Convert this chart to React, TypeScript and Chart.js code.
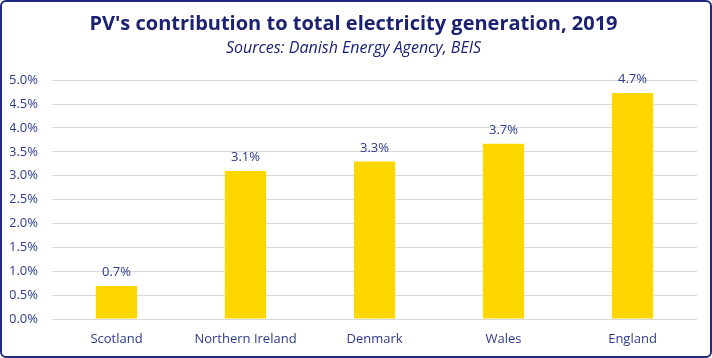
import React, { useEffect, useRef } from "react";
import { Chart, registerables } from "chart.js";

Chart.register(...registerables);

const categories = ["Scotland", "Northern Ireland", "Denmark", "Wales", "England"];
const pvShare = [0.69, 3.1, 3.3, 3.67, 4.73];
const valueLabels = ["0.7%", "3.1%", "3.3%", "3.7%", "4.7%"];
const titleText = "PV's contribution to total electricity generation, 2019";
const subtitleText = "Sources: Danish Energy Agency, BEIS";

const NAVY = "#1b2272";
const TICK = "#2e3a8c";
const FONT = "'Open Sans', 'Noto Sans', sans-serif";

const labelPlugin = {
  id: "barLabels",
  afterDatasetsDraw(chart: any) {
    const ctx = chart.ctx;
    const meta = chart.getDatasetMeta(0);
    ctx.save();
    ctx.fillStyle = TICK;
    ctx.font = `13px ${FONT}`;
    ctx.textAlign = "center";
    ctx.textBaseline = "bottom";
    meta.data.forEach((bar: any, i: number) => {
      ctx.fillText(valueLabels[i], bar.x, bar.y - 7);
    });
    ctx.restore();
  },
};

export default function App() {
  const ref = useRef<HTMLCanvasElement>(null);
  useEffect(() => {
    document.body.style.margin = "0";
    const chart = new Chart(ref.current!, {
      type: "bar",
      data: {
        labels: categories,
        datasets: [
          {
            data: pvShare,
            backgroundColor: "#FFD700",
            borderWidth: 0,
            barPercentage: 0.64,
            categoryPercentage: 0.5,
          },
        ],
      },
      options: {
        animation: false,
        responsive: false,
        maintainAspectRatio: false,
        layout: { padding: { left: 8, right: 13, top: 4, bottom: 4 } },
        plugins: {
          legend: { display: false },
          tooltip: { enabled: false },
          title: {
            display: true,
            text: titleText,
            color: NAVY,
            font: { family: FONT, size: 20, weight: "bold" },
            padding: { top: 6, bottom: 3 },
          },
          subtitle: {
            display: true,
            text: subtitleText,
            color: NAVY,
            font: { family: FONT, size: 16, style: "italic" },
            padding: { top: 0, bottom: 22 },
          },
        },
        scales: {
          x: {
            grid: { display: false },
            border: { display: false },
            ticks: { color: TICK, font: { family: FONT, size: 13, lineHeight: 1.0 }, padding: 6 },
          },
          y: {
            min: 0,
            max: 5,
            border: { display: false },
            grid: { color: "#d9d9d9", lineWidth: 1, drawTicks: false },
            afterFit: (scale: any) => {
              scale.width = 42;
            },
            ticks: {
              stepSize: 0.5,
              color: TICK,
              font: { family: FONT, size: 13 },
              padding: 14,
              callback: (v: any) => Number(v).toFixed(1) + "%",
            },
          },
        },
      },
      plugins: [labelPlugin],
    });
    return () => chart.destroy();
  }, []);
  return (
    <div
      style={{
        position: "fixed",
        left: 0,
        top: 0,
        width: 712,
        height: 358,
        boxSizing: "border-box",
        border: "2px solid #1f2a80",
        borderRadius: 6,
        background: "#fff",
        overflow: "hidden",
      }}
    >
      <canvas ref={ref} width={708} height={354} style={{ display: "block" }} />
    </div>
  );
}
